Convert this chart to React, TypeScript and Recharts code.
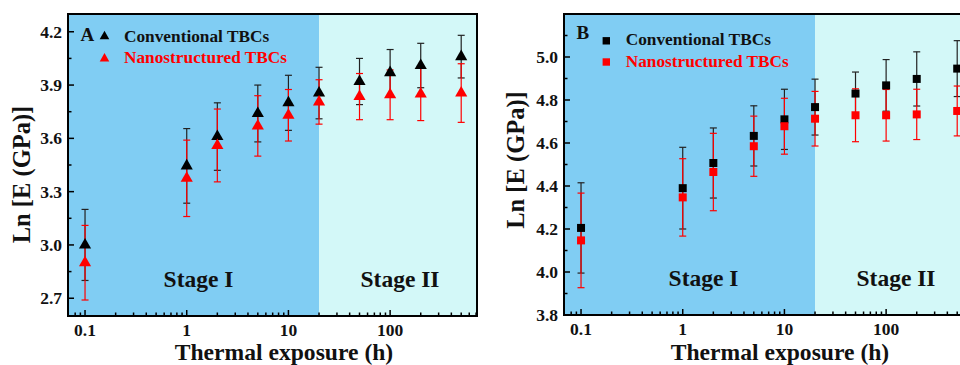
import { ScatterChart, Scatter, XAxis, YAxis, ZAxis, ErrorBar, ReferenceArea, Label } from 'recharts';

// exposure times (h)
const hours = [0.1, 1, 2, 5, 10, 20, 50, 100, 200, 500];

// panel A: triangles
const convA = [3.0, 3.445, 3.61, 3.74, 3.8, 3.855, 3.92, 3.97, 4.01, 4.06];
const convAErr = [0.2, 0.21, 0.19, 0.16, 0.155, 0.145, 0.13, 0.13, 0.125, 0.12];
const nanoA = [2.9, 3.375, 3.56, 3.67, 3.73, 3.805, 3.835, 3.845, 3.85, 3.855];
const nanoAErr = [0.21, 0.215, 0.205, 0.17, 0.145, 0.125, 0.13, 0.14, 0.15, 0.165];

// panel B: squares
const convB = [4.205, 4.39, 4.507, 4.633, 4.71, 4.767, 4.83, 4.868, 4.898, 4.946];
const convBErr = [0.21, 0.19, 0.163, 0.14, 0.14, 0.13, 0.1, 0.12, 0.126, 0.13];
const nanoB = [4.147, 4.347, 4.465, 4.585, 4.678, 4.713, 4.729, 4.729, 4.733, 4.749];
const nanoBErr = [0.22, 0.18, 0.18, 0.14, 0.13, 0.127, 0.123, 0.12, 0.117, 0.116];

const xDomain = [0.068, 715];
const stageSplit = 20;
const xMajor = [0.1, 1, 10, 100];
const xMinor = [
  0.08, 0.09, 0.2, 0.3, 0.4, 0.5, 0.6, 0.7, 0.8, 0.9,
  2, 3, 4, 5, 6, 7, 8, 9, 20, 30, 40, 50, 60, 70, 80, 90,
  200, 300, 400, 500, 600, 700,
];

const yDomainA = [2.6, 4.3];
const yMajorA = [2.7, 3.0, 3.3, 3.6, 3.9, 4.2];
const yMinorA = [2.85, 3.15, 3.45, 3.75, 4.05];
const yDomainB = [3.8, 5.2];
const yMajorB = [3.8, 4.0, 4.2, 4.4, 4.6, 4.8, 5.0];
const yMinorB = [3.9, 4.1, 4.3, 4.5, 4.7, 4.9, 5.1];

const FONT = '"Liberation Serif", "Times New Roman", serif';
const STAGE1 = '#80cdf3';
const STAGE2 = '#d3f8f8';
const RED = '#ff0000';
const TICK_MARGIN = 8;

const toRows = (vals: number[], errs: number[]) =>
  hours.map((t, i) => ({ t, v: vals[i], e: errs[i] }));

function XTick(props: any) {
  const { x, y, payload } = props;
  const axisY = y - TICK_MARGIN;
  const major = xMajor.includes(payload.value);
  return (
    <g>
      <line x1={x} x2={x} y1={axisY} y2={axisY - (major ? 6 : 3.5)} stroke="#000" strokeWidth={1.5} />
      {major && (
        <text x={x} y={axisY + 19.5} textAnchor="middle" fontFamily={FONT} fontWeight="bold" fontSize={17.5} fill="#111">
          {payload.value}
        </text>
      )}
    </g>
  );
}

function makeYTick(majors: number[]) {
  return function YTick(props: any) {
    const { x, y, payload } = props;
    const axisX = x + TICK_MARGIN;
    const major = majors.some((m) => Math.abs(m - payload.value) < 1e-6);
    return (
      <g>
        <line x1={axisX} x2={axisX + (major ? 6 : 3.5)} y1={y} y2={y} stroke="#000" strokeWidth={1.5} />
        {major && (
          <text x={axisX - 6} y={y + 6} textAnchor="end" fontFamily={FONT} fontWeight="bold" fontSize={17.5} fill="#111">
            {payload.value.toFixed(1)}
          </text>
        )}
      </g>
    );
  };
}

function YTitle({ viewBox, dx, dy }: any) {
  const cx = viewBox.x + viewBox.width + dx;
  const cy = viewBox.y + viewBox.height / 2 + dy;
  return (
    <text x={cx} y={cy} transform={`rotate(-90, ${cx}, ${cy})`} textAnchor="middle"
      fontFamily={FONT} fontWeight="bold" fontSize={24.5} fill="#111">
      Ln [E (GPa)]
    </text>
  );
}

function XTitle({ viewBox, dx }: any) {
  const cx = viewBox.x + dx;
  return (
    <text x={cx} y={359.8} textAnchor="middle" fontFamily={FONT} fontWeight="bold" fontSize={23.6} fill="#111">
      Thermal exposure (h)
    </text>
  );
}

const stageLabel = { fill: '#111', fontFamily: FONT, fontWeight: 'bold', fontSize: 23.5 };

function Panel(props: {
  width: number; marginRight: number; yWidth: number; xHeight: number;
  yDomain: number[]; yMajor: number[]; yMinor: number[];
  conv: any[]; nano: any[]; shape: 'triangle' | 'square'; size: number;
  titleDy: number; titleDx: number; stage1Dx: number;
}) {
  const { yDomain } = props;
  return (
    <ScatterChart width={props.width} height={365} margin={{ top: 14, right: props.marginRight, bottom: 0, left: 0 }}>
      <XAxis type="number" dataKey="t" scale="log" domain={xDomain} allowDataOverflow
        ticks={[...xMajor, ...xMinor]} interval={0} tickSize={0} tickMargin={TICK_MARGIN}
        tick={XTick} height={props.xHeight} axisLine={{ stroke: '#000', strokeWidth: 2 }}>
        <Label content={<XTitle dx={216} />} />
      </XAxis>
      <YAxis type="number" dataKey="v" domain={yDomain} allowDataOverflow
        ticks={[...props.yMajor, ...props.yMinor]} interval={0} tickSize={0} tickMargin={TICK_MARGIN}
        tick={makeYTick(props.yMajor)} width={props.yWidth} axisLine={{ stroke: '#000', strokeWidth: 2 }}>
        <Label content={<YTitle dx={props.titleDx} dy={props.titleDy} />} />
      </YAxis>
      <ZAxis type="number" range={[props.size, props.size]} />
      <ReferenceArea x1={xDomain[0]} x2={stageSplit} y1={yDomain[0]} y2={yDomain[1]} fill={STAGE1} fillOpacity={1} stroke="none">
        <Label value="Stage I" position="insideBottom" offset={29} dx={props.stage1Dx} {...stageLabel} />
      </ReferenceArea>
      <ReferenceArea x1={stageSplit} x2={xDomain[1]} y1={yDomain[0]} y2={yDomain[1]} fill={STAGE2} fillOpacity={1} stroke="none">
        <Label value="Stage II" position="insideBottom" offset={29} dx={2} {...stageLabel} />
      </ReferenceArea>
      <Scatter data={props.conv} fill="#000" shape={props.shape} isAnimationActive={false}>
        <ErrorBar dataKey="e" direction="y" width={3.5} stroke="#222" strokeWidth={1.2} />
      </Scatter>
      <Scatter data={props.nano} fill={RED} shape={props.shape} isAnimationActive={false}>
        <ErrorBar dataKey="e" direction="y" width={3.5} stroke={RED} strokeWidth={1.2} />
      </Scatter>
      <ReferenceArea x1={xDomain[0]} x2={xDomain[1]} y1={yDomain[0]} y2={yDomain[1]} fill="none" stroke="#000" strokeWidth={2} />
    </ScatterChart>
  );
}

const legendText = { fontFamily: FONT, fontWeight: 'bold', fontSize: 17.3 } as const;

function Legends() {
  const tri = (cx: number, cy: number, fill: string) =>
    <path d={`M${cx} ${cy - 4.5} L${cx + 4.8} ${cy + 4} L${cx - 4.8} ${cy + 4} Z`} fill={fill} />;
  const sq = (cx: number, cy: number, fill: string) =>
    <rect x={cx - 3.7} y={cy - 3.7} width={7.4} height={7.4} fill={fill} />;
  return (
    <svg width={960} height={365} style={{ position: 'absolute', left: 0, top: 0, pointerEvents: 'none' }}>
      <text x={80.5} y={40.7} fontFamily={FONT} fontWeight="bold" fontSize={19} fill="#111">A</text>
      {tri(104.5, 35.2, '#000')}
      <text x={124} y={41.7} fill="#111" {...legendText}>Conventional TBCs</text>
      {tri(104.5, 57.5, RED)}
      <text x={124} y={63} fill={RED} {...legendText}>Nanostructured TBCs</text>

      <text x={576.5} y={39.3} fontFamily={FONT} fontWeight="bold" fontSize={19} fill="#111">B</text>
      {sq(606.3, 40.8, '#000')}
      <text x={625.7} y={45.3} fill="#111" {...legendText}>Conventional TBCs</text>
      {sq(606.3, 62, RED)}
      <text x={625.7} y={66.7} fill={RED} {...legendText}>Nanostructured TBCs</text>
    </svg>
  );
}

export default function App() {
  return (
    <div style={{ position: 'absolute', left: 0, top: 0, width: 960, height: 365, overflow: 'hidden', background: '#fff' }}>
      <div style={{ position: 'absolute', left: 0, top: 0 }}>
        <Panel width={480} marginRight={3} yWidth={68} xHeight={49}
          yDomain={yDomainA} yMajor={yMajorA} yMinor={yMinorA}
          conv={toRows(convA, convAErr)} nano={toRows(nanoA, nanoAErr)}
          shape="triangle" size={40} titleDx={-38.5} titleDy={9.5} stage1Dx={5} />
      </div>
      <div style={{ position: 'absolute', left: 480, top: 0 }}>
        <Panel width={500} marginRight={7} yWidth={84} xHeight={50}
          yDomain={yDomainB} yMajor={yMajorB} yMinor={yMinorB}
          conv={toRows(convB, convBErr)} nano={toRows(nanoB, nanoBErr)}
          shape="square" size={56} titleDx={-40.5} titleDy={-4.5} stage1Dx={14} />
      </div>
      <Legends />
    </div>
  );
}
